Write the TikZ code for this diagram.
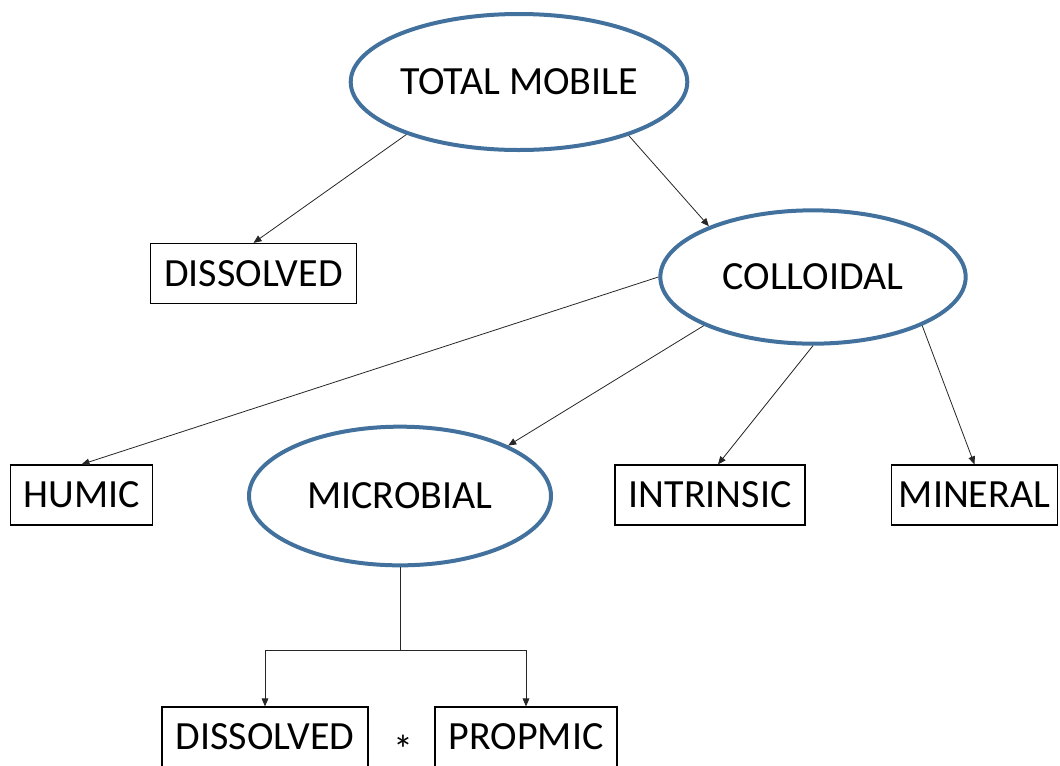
\documentclass[tikz,border=0pt]{standalone}
\usepackage{fontspec}
\setmainfont{Carlito}
\usetikzlibrary{shapes.geometric,arrows.meta}
\definecolor{ellblue}{HTML}{41719C}
\begin{document}
\begin{tikzpicture}[x=0.75pt,y=-0.75pt,
  every node/.style={font=\fontsize{30}{35}\selectfont, inner sep=0pt},
  oval/.style={ellipse, draw=ellblue, line width=3pt, minimum width=229pt, minimum height=102pt},
  box/.style={rectangle, draw=black, line width=0.9pt, minimum height=45pt},
  link/.style={draw=black!85, line width=0.6pt, -{Triangle[length=6pt,width=5pt]}},
  plain/.style={draw=black!85, line width=0.6pt}]
\useasboundingbox (0,0) rectangle (1060,765);
\clip (0,0) rectangle (1060,765);
\node[oval] (tm) at (519,82) {TOTAL MOBILE};
\node[oval, minimum height=100pt] (col) at (813,277) {COLLOIDAL};
\node[oval, minimum width=226.5pt, minimum height=104pt] (mic) at (400,496) {MICROBIAL};
\node[box, minimum width=155pt] (dis) at (253.5,273.5) {DISSOLVED};
\node[box, minimum width=107pt] (hum) at (81.5,495) {HUMIC};
\node[box, minimum width=142.5pt] (int) at (710,495) {INTRINSIC};
\node[box, minimum width=125pt] (min) at (974.5,495) {MINERAL};
\node[box, minimum width=154.5pt] (dis2) at (265,737) {DISSOLVED};
\node[box, minimum width=136.5pt] (pro) at (526,737) {PROPMIC};
\node[anchor=base] (ast) at (403,763) {\smash{*}};
\coordinate (split) at (400,650);
\draw[link] (tm.205) -- (dis.north);
\draw[link] (tm.334) -- (col.154);
\draw[link] (col.180) -- (hum.north);
\draw[link] (col.204) -- (mic.25);
\draw[link] (col.270) -- ([xshift=6]int.north);
\draw[link] (col.336) -- (min.north);
\draw[plain] (mic.south) -- (split);
\draw[link] (split) -| (dis2.north);
\draw[link] (split) -| (pro.north);
\end{tikzpicture}
\end{document}
